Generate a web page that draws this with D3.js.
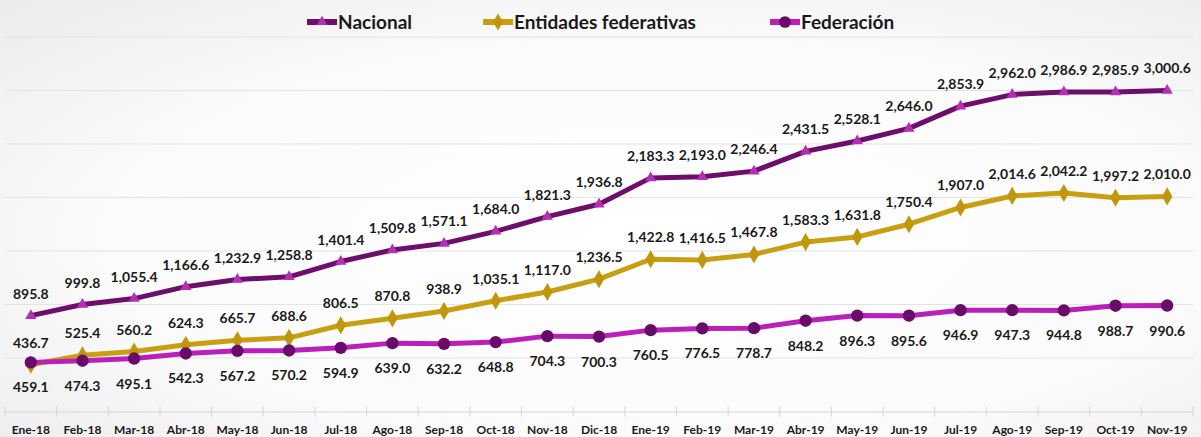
<!DOCTYPE html>
<meta charset="utf-8">
<style>
  body { margin: 0; background: #fff; }
  text { font-family: Lato, "Open Sans", sans-serif; font-weight: bold; fill: #1a1a1a; }
</style>
<body>
<script src="https://cdn.jsdelivr.net/npm/d3@7"></script>
<script>

var width = 1201,
  height = 437;

// months shown on the x axis
var months = ["Ene-18", "Feb-18", "Mar-18", "Abr-18", "May-18", "Jun-18", "Jul-18", "Ago-18",
  "Sep-18", "Oct-18", "Nov-18", "Dic-18", "Ene-19", "Feb-19", "Mar-19", "Abr-19", "May-19",
  "Jun-19", "Jul-19", "Ago-19", "Sep-19", "Oct-19", "Nov-19"];

var nacional = [895.8, 999.8, 1055.4, 1166.6, 1232.9, 1258.8, 1401.4, 1509.8, 1571.1, 1684.0,
  1821.3, 1936.8, 2183.3, 2193.0, 2246.4, 2431.5, 2528.1, 2646.0, 2853.9, 2962.0, 2986.9,
  2985.9, 3000.6];

var entidades = [436.7, 525.4, 560.2, 624.3, 665.7, 688.6, 806.5, 870.8, 938.9, 1035.1, 1117.0,
  1236.5, 1422.8, 1416.5, 1467.8, 1583.3, 1631.8, 1750.4, 1907.0, 2014.6, 2042.2, 1997.2, 2010.0];

var federacion = [459.1, 474.3, 495.1, 542.3, 567.2, 570.2, 594.9, 639.0, 632.2, 648.8, 704.3,
  700.3, 760.5, 776.5, 778.7, 848.2, 896.3, 895.6, 946.9, 947.3, 944.8, 988.7, 990.6];

var yTicks = [500, 1000, 1500, 2000, 2500, 3000, 3500];

var series = [
  { name: "Entidades federativas", values: entidades, line: "#c99f12", mark: "#bf960c", symbol: d3.symbolDiamond, size: 95, label: "above", legendX: 483 },
  { name: "Nacional", values: nacional, line: "#6d0e6d", mark: "#b42fb4", symbol: d3.symbolTriangle, size: 55, label: "above", legendX: 307 },
  { name: "Federación", values: federacion, line: "#bb1fbb", mark: "#690b69", symbol: d3.symbolCircle, size: 120, label: "below", legendX: 770 }
];

var svg = d3.select("body").append("svg")
  .attr("width", width)
  .attr("height", height);

// soft grey background, lighter in the middle
var grad = svg.append("defs").append("radialGradient")
  .attr("id", "bg")
  .attr("cx", "55%").attr("cy", "55%").attr("r", "75%");
grad.append("stop").attr("offset", "0%").attr("stop-color", "#ffffff");
grad.append("stop").attr("offset", "60%").attr("stop-color", "#fbfbfb");
grad.append("stop").attr("offset", "100%").attr("stop-color", "#ececec");

svg.append("rect")
  .attr("width", width)
  .attr("height", height)
  .attr("fill", "url(#bg)");

var x = d3.scaleBand()
  .domain(months)
  .range([5, 1193]);

var y = d3.scaleLinear()
  .domain([0, 3500])
  .range([411.5, 37]);

// gridlines
svg.append("g")
  .selectAll("line")
  .data(yTicks)
  .enter().append("line")
  .attr("x1", 5)
  .attr("x2", 1193)
  .attr("y1", function(d) { return y(d); })
  .attr("y2", function(d) { return y(d); })
  .attr("stroke", "#e3e3e3")
  .attr("stroke-width", 1);

// x axis: labels under each month, tick marks between months
var xAxis = svg.append("g")
  .attr("transform", "translate(0," + y(0) + ")")
  .call(d3.axisBottom(x).tickSize(0).tickPadding(14));

xAxis.select(".domain").attr("stroke", "#d6d6d6");
xAxis.selectAll("text")
  .style("font-family", "Lato, sans-serif")
  .style("font-weight", "bold")
  .style("font-size", "12px")
  .attr("fill", "#1a1a1a");

var bounds = months.map(function(m) { return x(m); }).concat([x.range()[1]]);
xAxis.selectAll(".sep")
  .data(bounds)
  .enter().append("line")
  .attr("class", "sep")
  .attr("x1", function(d) { return d; })
  .attr("x2", function(d) { return d; })
  .attr("y1", -5)
  .attr("y2", 5)
  .attr("stroke", "#d6d6d6");

var line = d3.line()
  .x(function(d, i) { return x(months[i]) + x.bandwidth() / 2; })
  .y(function(d) { return y(d); });

var fmt = d3.format(",.1f");

series.forEach(function(s) {
  var g = svg.append("g");

  g.append("path")
    .datum(s.values)
    .attr("d", line)
    .attr("fill", "none")
    .attr("stroke", s.line)
    .attr("stroke-width", 5)
    .attr("stroke-linejoin", "round");

  g.selectAll(".mark")
    .data(s.values)
    .enter().append("path")
    .attr("class", "mark")
    .attr("d", d3.symbol().type(s.symbol).size(s.size))
    .attr("transform", function(d, i) {
      return "translate(" + (x(months[i]) + x.bandwidth() / 2) + "," + y(d) + ")";
    })
    .attr("fill", s.mark);
});

// data labels on top of every line
series.forEach(function(s) {
  svg.append("g")
    .selectAll("text")
    .data(s.values)
    .enter().append("text")
    .attr("x", function(d, i) { return x(months[i]) + x.bandwidth() / 2; })
    .attr("y", function(d) { return s.label == "above" ? y(d) - 17 : y(d) + 30; })
    .attr("text-anchor", "middle")
    .style("font-size", "14px")
    .text(function(d) { return fmt(d); });
});

// legend
var legend = svg.append("g")
  .selectAll("g")
  .data([series[1], series[0], series[2]])
  .enter().append("g")
  .attr("transform", function(d) { return "translate(" + d.legendX + ",22)"; });

legend.append("line")
  .attr("x1", 0)
  .attr("x2", 30)
  .attr("stroke", function(d) { return d.line; })
  .attr("stroke-width", 6);

legend.append("path")
  .attr("d", function(d) { return d3.symbol().type(d.symbol).size(d.size * 0.9)(); })
  .attr("transform", "translate(15,0)")
  .attr("fill", function(d) { return d.mark; });

legend.append("text")
  .attr("x", 31)
  .attr("y", 7)
  .style("font-size", "19px")
  .text(function(d) { return d.name; });

</script>
</body>
